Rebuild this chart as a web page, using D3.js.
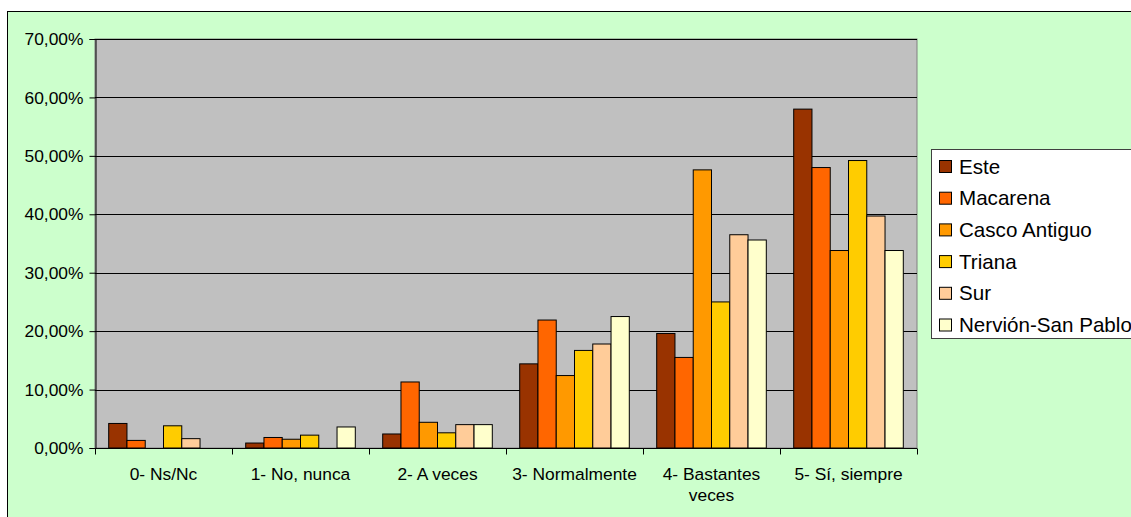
<!DOCTYPE html>
<html>
<head>
<meta charset="utf-8">
<script src="https://cdn.jsdelivr.net/npm/d3@7"></script>
<style>
  html, body { margin: 0; padding: 0; background: #fff; }
  svg { display: block; }
  text { font-family: "Liberation Sans", Arial, sans-serif; fill: #000; }
</style>
</head>
<body>
<svg id="chart" width="1131" height="517"></svg>
<script>
const categories = ["0- Ns/Nc", "1- No, nunca", "2- A veces", "3- Normalmente", "4- Bastantes veces", "5- Sí, siempre"];
const seriesNames = ["Este", "Macarena", "Casco Antiguo", "Triana", "Sur", "Nervión-San Pablo"];
const este         = [0.042, 0.0085, 0.024, 0.144, 0.196, 0.580];
const macarena     = [0.013, 0.018, 0.113, 0.219, 0.155, 0.480];
const cascoAntiguo = [0.000, 0.015, 0.044, 0.124, 0.476, 0.338];
const triana       = [0.038, 0.022, 0.026, 0.167, 0.250, 0.492];
const sur          = [0.016, 0.000, 0.040, 0.178, 0.365, 0.397];
const nervion      = [0.000, 0.036, 0.040, 0.225, 0.356, 0.338];
const seriesValues = [este, macarena, cascoAntiguo, triana, sur, nervion];
const seriesColors = ["#993300", "#FF6600", "#FF9900", "#FFCC00", "#FFCC99", "#FFFFCC"];
const yTicks = [0, 0.1, 0.2, 0.3, 0.4, 0.5, 0.6, 0.7];

const svg = d3.select("#chart");
const W = 1131, H = 517;
const plot = {left: 95, right: 917, top: 39, bottom: 448};

// chart area
svg.append("rect").attr("x", 7.5).attr("y", 11.5).attr("width", W).attr("height", H)
  .attr("fill", "#CCFFCC").attr("stroke", "#000").attr("stroke-width", 1);

const x0 = d3.scaleBand().domain(categories).range([plot.left, plot.right]).padding(0);
const x1 = d3.scaleBand().domain(seriesNames).range([0, x0.bandwidth()]).paddingInner(0).paddingOuter(0.75);
const y = d3.scaleLinear().domain([0, 0.7]).range([plot.bottom, plot.top]);

// plot area
svg.append("rect").attr("x", plot.left).attr("y", plot.top)
  .attr("width", plot.right - plot.left).attr("height", plot.bottom - plot.top)
  .attr("fill", "#C0C0C0").attr("stroke", "#808080").attr("stroke-width", 1);

// gridlines
svg.append("g").selectAll("line").data(yTicks.filter(t => t > 0)).join("line")
  .attr("x1", plot.left).attr("x2", plot.right)
  .attr("y1", d => Math.round(y(d)) + 0.5).attr("y2", d => Math.round(y(d)) + 0.5)
  .attr("stroke", "#000").attr("stroke-width", 1);

// bars
const groups = svg.append("g").selectAll("g").data(categories).join("g")
  .attr("transform", c => `translate(${x0(c)},0)`);
groups.selectAll("rect").data((c, ci) => seriesNames.map((s, si) => ({s, si, v: seriesValues[si][ci]})))
  .join("rect")
  .filter(d => d.v > 0)
  .attr("x", d => x1(d.s))
  .attr("y", d => y(d.v))
  .attr("width", x1.bandwidth())
  .attr("height", d => y(0) - y(d.v))
  .attr("fill", d => seriesColors[d.si])
  .attr("stroke", "#000").attr("stroke-width", 1);

// y axis
const fmt = d => d3.format(".2f")(d * 100).replace(".", ",") + "%";
const yAxis = svg.append("g").attr("transform", `translate(${plot.left + 0.5},0)`)
  .call(d3.axisLeft(y).tickValues(yTicks).tickFormat(fmt).tickSize(6).tickPadding(6));
yAxis.select(".domain").attr("stroke", "#000");
yAxis.selectAll(".tick line").attr("stroke", "#000");
yAxis.selectAll("text").attr("font-size", "17.4px")
  .attr("font-family", "Liberation Sans, Arial, sans-serif").attr("fill", "#000");

// x axis
const xAxisG = svg.append("g").attr("transform", `translate(0,${plot.bottom + 0.5})`);
xAxisG.append("line").attr("x1", plot.left).attr("x2", plot.right).attr("stroke", "#000");
const boundaries = categories.map(c => x0(c)).concat([x0(categories[categories.length - 1]) + x0.bandwidth()]);
xAxisG.selectAll("line.tk").data(boundaries).join("line").attr("class", "tk")
  .attr("x1", d => Math.round(d) + 0.5).attr("x2", d => Math.round(d) + 0.5)
  .attr("y1", 0).attr("y2", 6).attr("stroke", "#000");

const labels = xAxisG.selectAll("text").data(categories).join("text")
  .attr("x", c => x0(c) + x0.bandwidth() / 2)
  .attr("y", 31)
  .attr("text-anchor", "middle")
  .attr("font-size", "17.4px");
labels.each(function(c) {
  const t = d3.select(this);
  const words = c.split(" ");
  let line = [];
  let tspan = t.append("tspan").attr("x", x0(c) + x0.bandwidth() / 2).attr("dy", 0);
  words.forEach(w => {
    line.push(w);
    tspan.text(line.join(" "));
    if (tspan.node().getComputedTextLength() > x0.bandwidth() - 6 && line.length > 1) {
      line.pop();
      tspan.text(line.join(" "));
      line = [w];
      tspan = t.append("tspan").attr("x", x0(c) + x0.bandwidth() / 2).attr("dy", 21.5).text(w);
    }
  });
});

// legend
const lg = svg.append("g");
lg.append("rect").attr("x", 931.5).attr("y", 149.5).attr("width", 260).attr("height", 189)
  .attr("fill", "#fff").attr("stroke", "#404040").attr("stroke-width", 1);
const items = lg.selectAll("g").data(seriesNames).join("g")
  .attr("transform", (d, i) => `translate(0,${160 + i * 31.7})`);
items.append("rect").attr("x", 939.5).attr("y", 0.5).attr("width", 12).attr("height", 12)
  .attr("fill", (d, i) => seriesColors[i]).attr("stroke", "#000");
items.append("text").attr("x", 959).attr("y", 13.5)
  .attr("font-size", "20.6px").text(d => d);
</script>
</body>
</html>
